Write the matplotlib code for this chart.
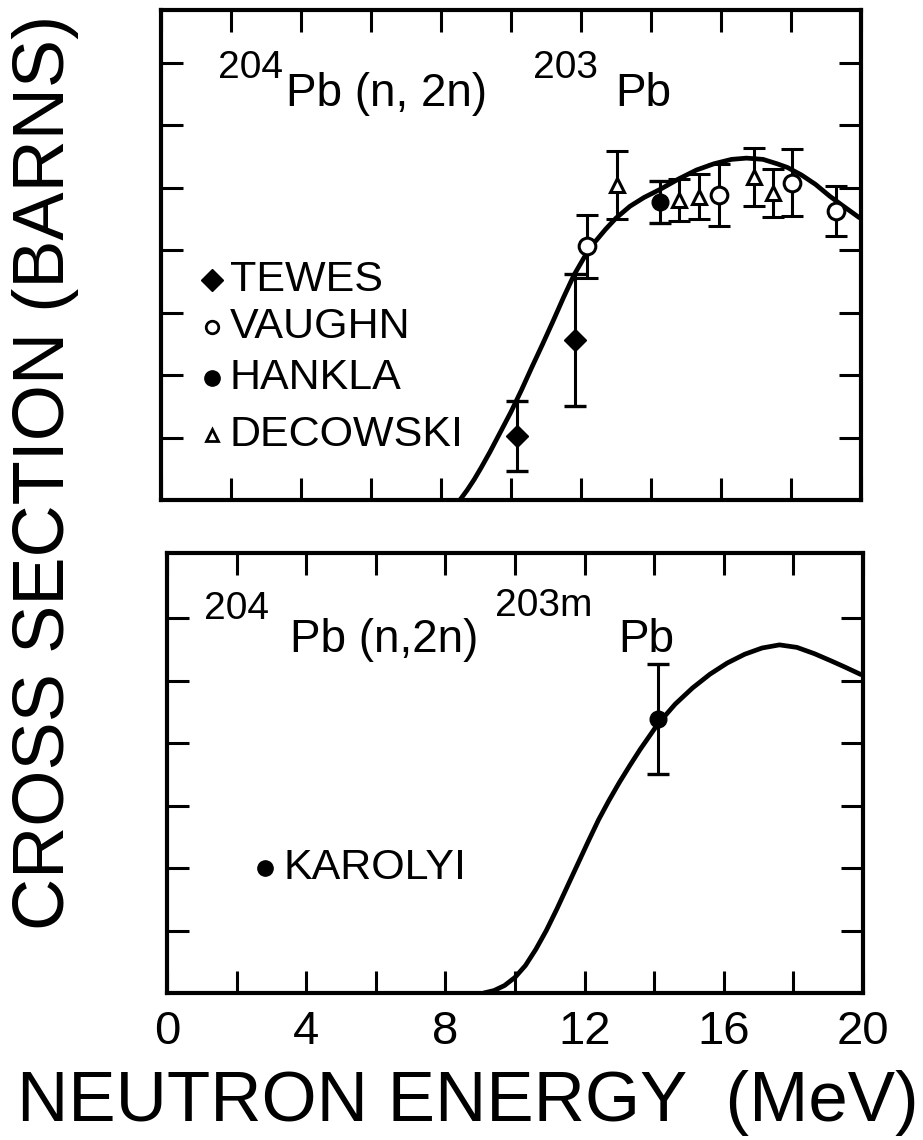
import matplotlib
matplotlib.use("Agg")
import matplotlib.pyplot as plt

plt.rcParams['font.family'] = ['Liberation Sans', 'DejaVu Sans']

# ---------------- data (x: neutron energy MeV, y: cross section in tick units) ----
tewes_x = [10.16, 11.83]
tewes_y = [1.02, 2.56]
tewes_err = [0.56, 1.05]

vaughn_x = [12.18, 15.95, 18.02, 19.29]
vaughn_y = [4.06, 4.88, 5.08, 4.63]
vaughn_err = [0.50, 0.49, 0.54, 0.40]

hankla_x = [14.26]
hankla_y = [4.77]
hankla_err = [0.34]

decowski_x = [13.02, 14.80, 15.38, 16.94, 17.49]
decowski_y = [5.04, 4.80, 4.85, 5.17, 4.91]
decowski_err = [0.54, 0.33, 0.36, 0.46, 0.39]

curve_top_x = [8.54, 8.75, 8.95, 9.15, 9.4, 9.7, 10.0, 10.3, 10.6, 10.9, 11.2,
               11.5, 11.8, 12.1, 12.4, 12.7, 13.0, 13.4, 13.8, 14.26, 14.8,
               15.3, 15.8, 16.3, 16.73, 17.2, 17.6, 17.9, 18.3, 18.7, 19.11,
               19.5, 19.97]
curve_top_y = [0.0, 0.16, 0.33, 0.52, 0.77, 1.09, 1.41, 1.76, 2.13, 2.49, 2.86,
               3.24, 3.6, 3.89, 4.13, 4.33, 4.51, 4.7, 4.84, 4.97, 5.14,
               5.28, 5.38, 5.45, 5.47, 5.45, 5.38, 5.32, 5.2, 5.05, 4.86,
               4.7, 4.51]

karolyi_x = [14.12]
karolyi_y = [4.38]
karolyi_err = [0.88]

curve_bot_x = [9.1, 9.4, 9.7, 10.0, 10.3, 10.6, 10.9, 11.2, 11.5, 11.8, 12.1,
               12.4, 12.7, 13.0, 13.3, 13.6, 14.1, 14.6, 15.1, 15.6, 16.1,
               16.6, 17.1, 17.6, 18.1, 18.6, 19.1, 19.5, 19.96]
curve_bot_y = [0.0, 0.04, 0.12, 0.25, 0.44, 0.7, 1.0, 1.34, 1.7, 2.06, 2.42,
               2.77, 3.08, 3.37, 3.64, 3.9, 4.3, 4.62, 4.88, 5.1, 5.28,
               5.42, 5.52, 5.57, 5.53, 5.43, 5.31, 5.21, 5.09]

x_ticks = [0, 2, 4, 6, 8, 10, 12, 14, 16, 18, 20]
x_tick_labels = ['0', '', '4', '', '8', '', '12', '', '16', '', '20']
y_ticks_top = [1, 2, 3, 4, 5, 6, 7]
y_ticks_bot = [1, 2, 3, 4, 5, 6]

legend_top = ['TEWES', 'VAUGHN', 'HANKLA', 'DECOWSKI']
legend_bot = ['KAROLYI']

# ---------------- figure ----------------
W, H = 923, 1140
fig = plt.figure(figsize=(W / 100, H / 100), dpi=100)

def ax_rect(x0, y0, x1, y1):
    return [x0 / W, 1 - y1 / H, (x1 - x0) / W, (y1 - y0) / H]

ax1 = fig.add_axes(ax_rect(161, 10, 861, 500))
ax2 = fig.add_axes(ax_rect(167, 553, 863, 993))

def style(ax, yticks, ylim, labels):
    ax.set_xlim(0, 20)
    ax.set_ylim(*ylim)
    ax.set_xticks(x_ticks)
    ax.set_yticks(yticks)
    ax.set_yticklabels([])
    if labels:
        ax.set_xticklabels(x_tick_labels)
    else:
        ax.set_xticklabels([])
    ax.tick_params(direction='in', length=16, width=2.2, top=True, right=True,
                   labelsize=34, pad=12, color='black')
    for s in ax.spines.values():
        s.set_linewidth(3)
        s.set_color('black')

style(ax1, y_ticks_top, (0, 7.84), False)
style(ax2, y_ticks_bot, (0, 7.04), True)

ekw = dict(ecolor='black', elinewidth=2.2, capsize=8, capthick=2.4, linestyle='none', zorder=3)

ax1.plot(curve_top_x, curve_top_y, color='black', lw=3.4, zorder=2,
         solid_capstyle='butt', solid_joinstyle='round')
ax1.errorbar(tewes_x, tewes_y, yerr=tewes_err, marker='D', ms=11, mfc='black', mec='black', **ekw)
ax1.errorbar(vaughn_x, vaughn_y, yerr=vaughn_err, marker='o', ms=12, mfc='white', mec='black', mew=2.2, **ekw)
ax1.errorbar(hankla_x, hankla_y, yerr=hankla_err, marker='o', ms=12, mfc='black', mec='black', **ekw)
ax1.errorbar(decowski_x, decowski_y, yerr=decowski_err, marker='^', ms=10, mfc='white', mec='black', mew=2.2, **ekw)

ax2.plot(curve_bot_x, curve_bot_y, color='black', lw=3.4, zorder=2,
         solid_capstyle='butt', solid_joinstyle='round')
ax2.errorbar(karolyi_x, karolyi_y, yerr=karolyi_err, marker='o', ms=12, mfc='black', mec='black', **ekw)

# titles (reaction labels)
tkw = dict(transform=ax1.transAxes, va='baseline', ha='left', color='black')
ax1.text(0.081, 0.862, '204', fontsize=28, **tkw)
ax1.text(0.178, 0.805, 'Pb (n, 2n)', fontsize=33, **tkw)
ax1.text(0.532, 0.862, '203', fontsize=28, **tkw)
ax1.text(0.649, 0.805, 'Pb', fontsize=33, **tkw)

bkw = dict(transform=ax2.transAxes, va='baseline', ha='left', color='black')
ax2.text(0.053, 0.850, '204', fontsize=28, **bkw)
ax2.text(0.177, 0.775, 'Pb (n,2n)', fontsize=33, **bkw)
ax2.text(0.471, 0.857, '203m', fontsize=28, **bkw)
ax2.text(0.649, 0.775, 'Pb', fontsize=33, **bkw)

# legend (top)
leg_markers = [dict(marker='D', ms=11, mfc='black', mec='black'),
               dict(marker='o', ms=9, mfc='white', mec='black', mew=2),
               dict(marker='o', ms=11, mfc='black', mec='black'),
               dict(marker='^', ms=8, mfc='white', mec='black', mew=2)]
leg_y = [0.449, 0.353, 0.249, 0.133]
for name, mk, yy in zip(legend_top, leg_markers, leg_y):
    ax1.plot([0.073], [yy], transform=ax1.transAxes, linestyle='none', **mk)
    ax1.text(0.098, yy, name, transform=ax1.transAxes, fontsize=31, va='center', ha='left')

ax2.plot([0.141], [0.284], transform=ax2.transAxes, linestyle='none', marker='o', ms=11,
         mfc='black', mec='black')
ax2.text(0.168, 0.284, legend_bot[0], transform=ax2.transAxes, fontsize=31, va='center', ha='left')

# axis titles
fig.text(46 / W, 1 - 472 / H, 'CROSS SECTION (BARNS)', rotation=90, fontsize=52,
         ha='center', va='center')
fig.text(468 / W, 1 - 1103 / H, 'NEUTRON ENERGY  (MeV)', fontsize=51,
         ha='center', va='center')

fig.savefig('out.png', dpi=100)
